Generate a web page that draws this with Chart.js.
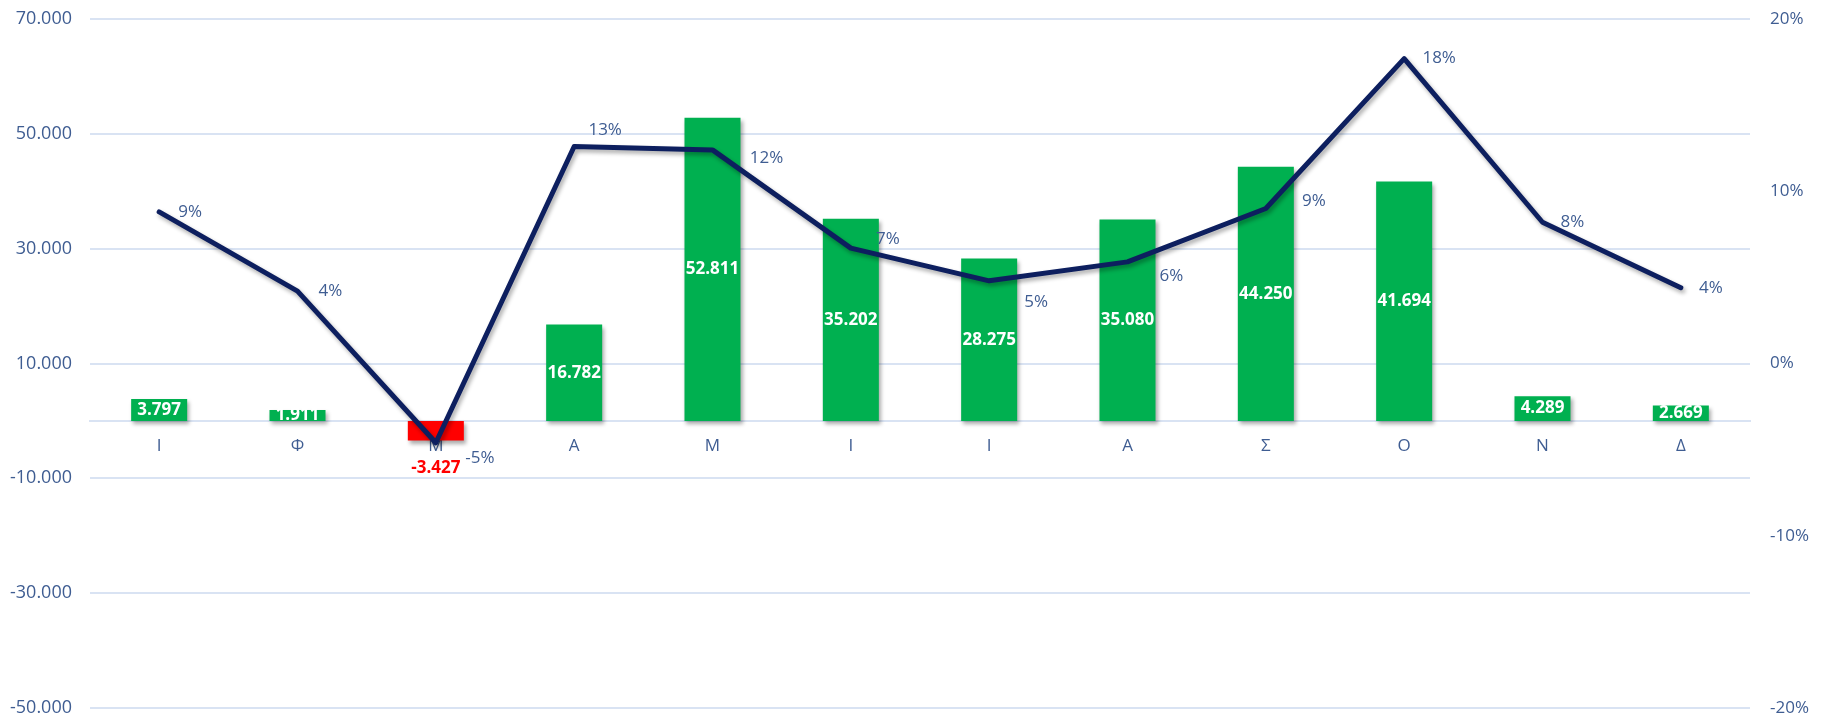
<!DOCTYPE html>
<html>
<head>
<meta charset="utf-8">
<script src="https://cdn.jsdelivr.net/npm/chart.js@4.4.1/dist/chart.umd.min.js"></script>
<style>
  html, body { margin: 0; padding: 0; background: #fff; }
  #wrap { width: 1828px; height: 717px; position: relative; }
</style>
</head>
<body>
<div id="wrap"><canvas id="chart"></canvas></div>
<script>
// months (Greek initials)
const months = ["Ι", "Φ", "Μ", "Α", "Μ", "Ι", "Ι", "Α", "Σ", "Ο", "Ν", "Δ"];
// bar values (left axis)
const amounts = [3797, 1911, -3427, 16782, 52811, 35202, 28275, 35080, 44250, 41694, 4289, 2669];
// line values in % (right axis)
const growth = [8.8, 4.2, -4.6, 12.6, 12.4, 6.7, 4.8, 5.9, 9.0, 17.7, 8.2, 4.4];
// left axis ticks / right axis ticks
const leftTicks = [-50000, -30000, -10000, 10000, 30000, 50000, 70000];
const rightTicks = [-20, -10, 0, 10, 20];

// manual label nudges for the % labels (like the hand placed ones in the sheet)
const pctLabelShift = [[31, 0], [33, 0], [44, 15], [31, -16], [54, 8], [37, -9], [47, 21], [44, 14], [48, -7], [35, 0], [30, 0], [30, 0]];

const textCol = "#3f5d92";
const gridCol = "#d9e3f3";

const fmt = (v) => (v < 0 ? "-" : "") + Math.abs(v).toString().replace(/\B(?=(\d{3})+(?!\d))/g, ".");

const shadowPlugin = {
    id: "shadows",
    beforeDatasetDraw(chart) {
        let c = chart.ctx;
        c.save();
        c.shadowColor = "rgba(0,0,0,0.33)";
        c.shadowBlur = 4;
        c.shadowOffsetX = 2;
        c.shadowOffsetY = 3;
    },
    afterDatasetDraw(chart) {
        chart.ctx.restore();
    }
};

const labelPlugin = {
    id: "valueLabels",
    afterDatasetsDraw(chart) {
        let c = chart.ctx;
        c.save();
        c.textAlign = "center";
        c.textBaseline = "middle";
        c.font = 'bold 17px "Open Sans"';
        chart.getDatasetMeta(0).data.forEach((bar, i) => {
            let v = amounts[i];
            if (v >= 0) {
                c.fillStyle = "#ffffff";
                c.fillText(fmt(v), bar.x, (bar.y + bar.base) / 2);
            } else {
                c.fillStyle = "#ff0000";
                c.fillText(fmt(v), bar.x, bar.y + 28);
            }
        });
        c.font = '17px "Open Sans"';
        c.fillStyle = textCol;
        chart.getDatasetMeta(1).data.forEach((pt, i) => {
            c.fillText(Math.round(growth[i]) + "%", pt.x + pctLabelShift[i][0], pt.y + pctLabelShift[i][1]);
        });
        c.restore();
    }
};

// keep the plot area where the sheet has it (no extra room for half labels)
const noPad = (s) => { s.paddingTop = 0; s.paddingBottom = 0; };

new Chart(document.getElementById("chart").getContext("2d"), {
    data: {
        labels: months,
        datasets: [
            {
                type: "bar",
                data: amounts,
                yAxisID: "y",
                order: 2,
                backgroundColor: amounts.map((v) => (v < 0 ? "#ff0000" : "#00b050")),
                barPercentage: 0.405,
                categoryPercentage: 1
            },
            {
                type: "line",
                data: growth,
                yAxisID: "y1",
                order: 1,
                borderColor: "#0d1f5f",
                borderWidth: 5,
                pointRadius: 0,
                tension: 0,
                borderCapStyle: "round",
                borderJoinStyle: "round",
                fill: false
            }
        ]
    },
    options: {
        responsive: true,
        maintainAspectRatio: false,
        animation: false,
        layout: { padding: { top: 19, bottom: 9 } },
        plugins: { legend: { display: false }, tooltip: { enabled: false } },
        scales: {
            x: {
                position: { y: 0 },
                afterFit: (s) => { s.height = 0; noPad(s); },
                grid: { display: false, drawTicks: false },
                border: { display: true, color: gridCol, width: 2 },
                ticks: { color: textCol, font: { family: "Open Sans", size: 17 }, padding: 15 }
            },
            y: {
                position: "left",
                min: -50000,
                max: 70000,
                afterBuildTicks: (s) => { s.ticks = leftTicks.map((v) => ({ value: v })); },
                afterFit: (s) => { s.width = 90; noPad(s); },
                grid: { color: gridCol, lineWidth: 2, drawTicks: false },
                border: { display: false },
                ticks: { color: textCol, font: { family: "Open Sans", size: 18 }, padding: 18, callback: (v) => fmt(v) }
            },
            y1: {
                position: "right",
                min: -20,
                max: 20,
                afterBuildTicks: (s) => { s.ticks = rightTicks.map((v) => ({ value: v })); },
                afterFit: (s) => { s.width = 78; noPad(s); },
                grid: { display: false, drawTicks: false },
                border: { display: false },
                ticks: { color: textCol, font: { family: "Open Sans", size: 17 }, padding: 20, callback: (v) => v + "%" }
            }
        }
    },
    plugins: [shadowPlugin, labelPlugin]
});
</script>
</body>
</html>
